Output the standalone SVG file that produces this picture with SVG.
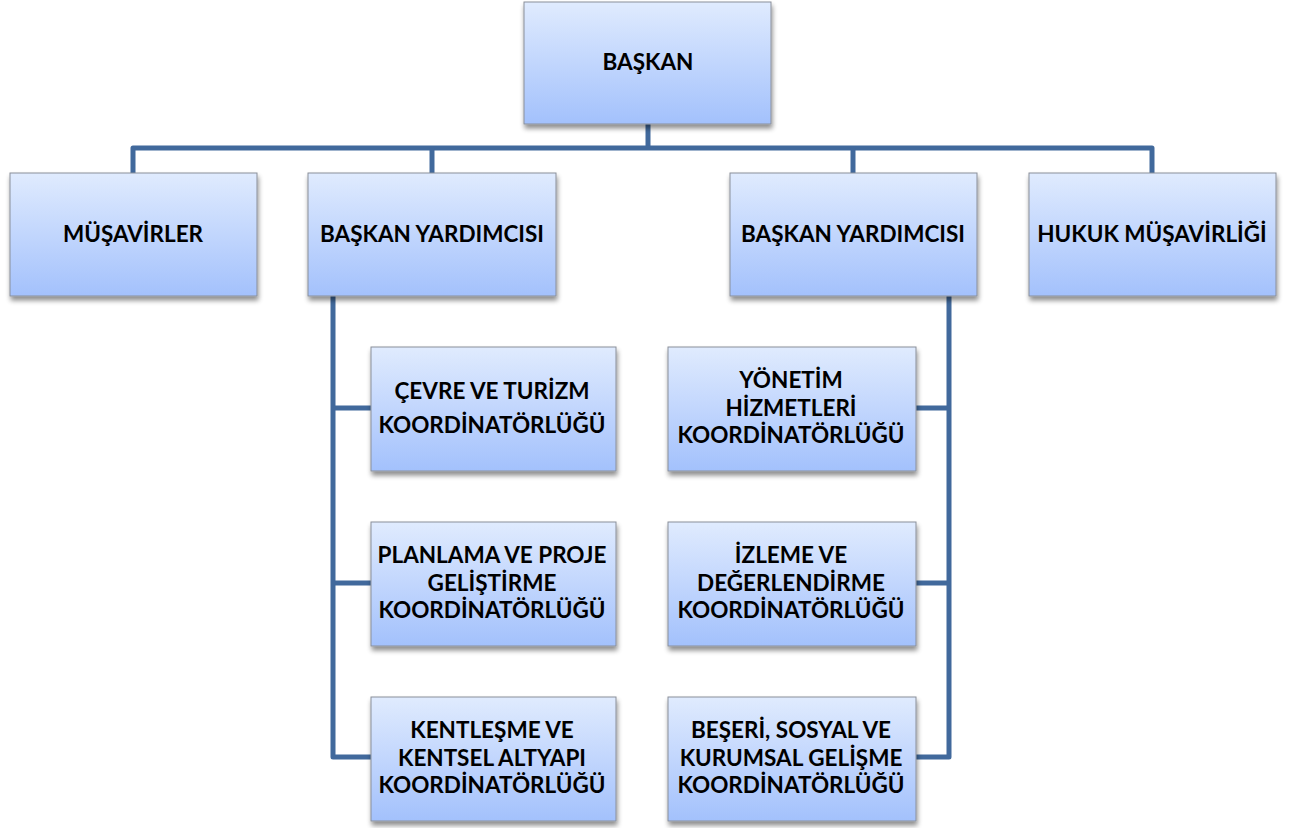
<svg xmlns="http://www.w3.org/2000/svg" width="1295" height="828" viewBox="0 0 1295 828">
<defs>
<linearGradient id="g" x1="0" y1="0" x2="0" y2="1">
<stop offset="0" stop-color="#e0ebfe"/>
<stop offset="1" stop-color="#a3c1fc"/>
</linearGradient>
<filter id="sh" x="-10%" y="-10%" width="125%" height="130%">
<feGaussianBlur in="SourceAlpha" stdDeviation="2.5"/>
<feOffset dx="1" dy="4" result="b"/>
<feComponentTransfer><feFuncA type="linear" slope="0.45"/></feComponentTransfer>
<feMerge><feMergeNode/><feMergeNode in="SourceGraphic"/></feMerge>
</filter>
</defs>
<style>
.box{fill:url(#g);stroke:#8a8f99;stroke-width:1;filter:url(#sh)}
.t{font-family:Lato,"Open Sans",sans-serif;font-weight:bold;font-size:22.5px;fill:#000;text-anchor:middle}
.c{fill:none;stroke:#41699c;stroke-width:5;stroke-linejoin:round;stroke-linecap:butt}
</style>
<g id="connectors">
<path class="c" d="M648,124 V148"/>
<path class="c" d="M133,173 V148 H1152 V173"/>
<path class="c" d="M432,148 V173"/>
<path class="c" d="M853,148 V173"/>
<path class="c" d="M333,296 V757 H371"/>
<path class="c" d="M333,408 H371"/>
<path class="c" d="M333,583 H371"/>
<path class="c" d="M949,296 V757 H916"/>
<path class="c" d="M949,408 H916"/>
<path class="c" d="M949,583 H916"/>
</g>
<g id="baskan"><rect class="box" x="524" y="2" width="247" height="122"/><text class="t" x="648" y="70">BAŞKAN</text></g>
<g id="musavirler"><rect class="box" x="10" y="173" width="247" height="123"/><text class="t" x="133" y="242">MÜŞAVİRLER</text></g>
<g id="yardimci1"><rect class="box" x="308" y="173" width="248" height="123"/><text class="t" x="432" y="242">BAŞKAN YARDIMCISI</text></g>
<g id="yardimci2"><rect class="box" x="730" y="173" width="247" height="123"/><text class="t" x="853" y="242">BAŞKAN YARDIMCISI</text></g>
<g id="hukuk"><rect class="box" x="1029" y="173" width="247" height="123"/><text class="t" x="1152" y="242">HUKUK MÜŞAVİRLİĞİ</text></g>
<g id="cevre"><rect class="box" x="371" y="347" width="245" height="124"/><text class="t" x="492" y="399">ÇEVRE VE TURİZM</text><text class="t" x="492" y="433">KOORDİNATÖRLÜĞÜ</text></g>
<g id="planlama"><rect class="box" x="371" y="522" width="245" height="124"/><text class="t" x="492" y="563">PLANLAMA VE PROJE</text><text class="t" x="492" y="590.5">GELİŞTİRME</text><text class="t" x="492" y="618">KOORDİNATÖRLÜĞÜ</text></g>
<g id="kentlesme"><rect class="box" x="371" y="697" width="245" height="124"/><text class="t" x="492" y="738">KENTLEŞME VE</text><text class="t" x="492" y="765.5">KENTSEL ALTYAPI</text><text class="t" x="492" y="793">KOORDİNATÖRLÜĞÜ</text></g>
<g id="yonetim"><rect class="box" x="668" y="347" width="248" height="124"/><text class="t" x="791" y="388">YÖNETİM</text><text class="t" x="791" y="415.5">HİZMETLERİ</text><text class="t" x="791" y="443">KOORDİNATÖRLÜĞÜ</text></g>
<g id="izleme"><rect class="box" x="668" y="522" width="248" height="124"/><text class="t" x="791" y="563">İZLEME VE</text><text class="t" x="791" y="590.5">DEĞERLENDİRME</text><text class="t" x="791" y="618">KOORDİNATÖRLÜĞÜ</text></g>
<g id="beseri"><rect class="box" x="668" y="697" width="248" height="124"/><text class="t" x="791" y="738">BEŞERİ, SOSYAL VE</text><text class="t" x="791" y="765.5">KURUMSAL GELİŞME</text><text class="t" x="791" y="793">KOORDİNATÖRLÜĞÜ</text></g>
</svg>
